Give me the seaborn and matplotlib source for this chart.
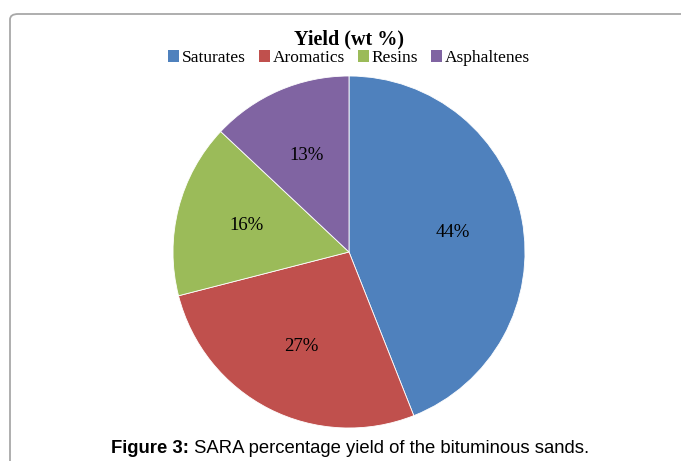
import matplotlib
matplotlib.use("Agg")
import matplotlib.pyplot as plt
import seaborn as sns
from matplotlib.patches import Patch, FancyBboxPatch

# data
categories = ["Saturates", "Aromatics", "Resins", "Asphaltenes"]
yields = [44, 27, 16, 13]
colors = ["#4F81BD", "#C0504D", "#9BBB59", "#8064A2"]

sns.set_style("white")
plt.rcParams["text.color"] = "black"

W, H = 681, 461
fig = plt.figure(figsize=(W / 100, H / 100), dpi=100)

# rounded frame, open at the bottom and right like the cropped page
frame = FancyBboxPatch((10 / W, -20 / H), 700 / W, (H - 14 + 20) / H,
                       boxstyle="round,pad=0,rounding_size=0.012",
                       transform=fig.transFigure, facecolor="white",
                       edgecolor="#a8a8a8", linewidth=1.3, zorder=-5)
fig.patches.append(frame)

# pie: centre (349, 252) px, radius 176 px
cx, cy, r = 349, 252, 176
ax = fig.add_axes([(cx - r) / W, (H - cy - r) / H, 2 * r / W, 2 * r / H])
ax.set_zorder(2)
ax.patch.set_alpha(0)
wedges, texts, autotexts = ax.pie(yields, colors=colors, startangle=90,
                                  counterclock=False, autopct="%1.0f%%",
                                  pctdistance=0.6,
                                  wedgeprops=dict(edgecolor="white", linewidth=0.6),
                                  textprops=dict(family="Liberation Serif", fontsize=13.5,
                                                 color="black"))
ax.set_xlim(-1, 1)
ax.set_ylim(-1, 1)
ax.set_aspect("equal")
ax.axis("off")

fig.text(349 / W, 1 - 39 / H, "Yield (wt %)", ha="center", va="center",
         family="Liberation Serif", fontweight="bold", fontsize=14.5, color="black")

handles = [Patch(facecolor=c, edgecolor="none") for c in colors]
fig.legend(handles, categories, loc="center", bbox_to_anchor=(349 / W, 1 - 58 / H),
           ncol=4, frameon=False, handlelength=0.65, handleheight=0.65,
           handletextpad=0.15, columnspacing=0.75, borderpad=0,
           prop=dict(family="Liberation Serif", size=12.5))

# caption: bold "Figure 3:" followed by regular text
fig.canvas.draw()
renderer = fig.canvas.get_renderer()
t1 = fig.text(0, 1 - 448 / H, "Figure 3:", ha="left", va="center",
              family="Liberation Sans", fontweight="bold", fontsize=13.3, color="black")
t2 = fig.text(0, 1 - 448 / H, " SARA percentage yield of the bituminous sands.",
              ha="left", va="center", family="Liberation Sans", fontsize=13.3,
              color="black")
w1 = t1.get_window_extent(renderer).width
w2 = t2.get_window_extent(renderer).width
x0 = 350 - (w1 + w2) / 2
t1.set_x(x0 / W)
t2.set_x((x0 + w1) / W)

fig.savefig("out.png", dpi=100)
